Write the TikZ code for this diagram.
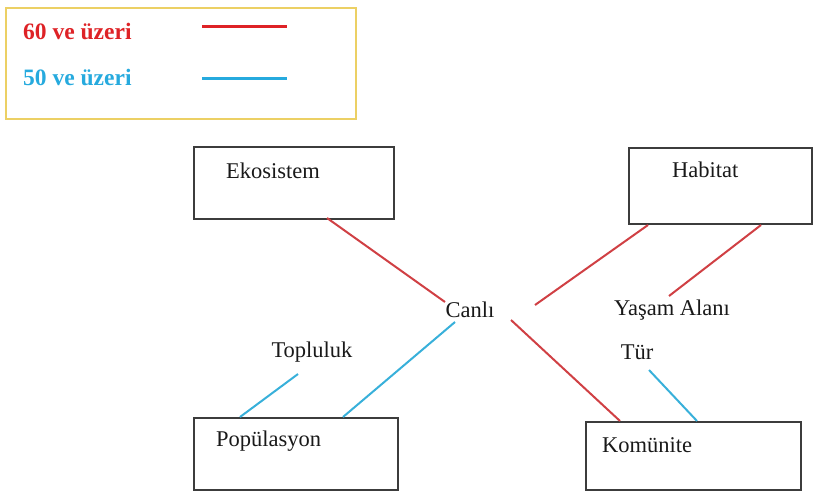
\documentclass[tikz,border=0pt]{standalone}
\usepackage{fontspec}
\setmainfont{Liberation Serif}
\definecolor{legred}{RGB}{222,34,38}
\definecolor{legblue}{RGB}{38,170,222}
\definecolor{linered}{RGB}{208,64,68}
\definecolor{lineblue}{RGB}{56,176,218}
\definecolor{gold}{RGB}{236,208,100}
\definecolor{boxgray}{RGB}{60,60,60}
\definecolor{txt}{RGB}{25,25,25}
\begin{document}
\begin{tikzpicture}[x=1pt,y=-1pt,
  boxnode/.style={draw=boxgray,line width=2pt,minimum width=#1,minimum height=72pt,inner sep=0pt,anchor=north west},
  boxnode/.default=200pt,
  lbl/.style={font=\fontsize{22.5}{26}\selectfont,text=txt,inner sep=0pt},
  leg/.style={font=\fontsize{23.5}{27}\selectfont\bfseries,inner sep=0pt,anchor=west},
  redl/.style={draw=linered,line width=2pt},
  bluel/.style={draw=lineblue,line width=2pt}]
\useasboundingbox (0,0) rectangle (818,491);
% legend
\node[draw=gold,line width=2pt,minimum width=350pt,minimum height=111pt,anchor=north west,inner sep=0pt] (legend) at (5,7) {};
\node[leg,text=legred] (l60) at (23,31) {60 ve üzeri};
\node[leg,text=legblue] (l50) at (23,77) {50 ve üzeri};
\coordinate (r1) at (202,26); \coordinate (r2) at (287,26);
\coordinate (b1) at (202,78); \coordinate (b2) at (287,78);
\draw[draw=legred,line width=3pt] (r1) -- (r2);
\draw[draw=legblue,line width=3pt] (b1) -- (b2);
% boxes
\node[boxnode=200pt] (eko) at (193,146) {};
\node[boxnode=183pt,minimum height=76pt] (hab) at (628,147) {};
\node[boxnode=204pt] (pop) at (193,417) {};
\node[boxnode=215pt,minimum height=68pt] (kom) at (585,421) {};
\node[lbl,anchor=west] (tEko) at (226,171) {Ekosistem};
\node[lbl,anchor=west] (tHab) at (672,170) {Habitat};
\node[lbl,anchor=west] (tPop) at (216,441) {Popülasyon};
\node[lbl,anchor=west] (tKom) at (602,445) {Komünite};
% labels
\node[lbl] (canli) at (470,310) {Canlı};
\node[lbl] (yasam) at (672,310) {Yaşam Alanı};
\node[lbl] (tur) at (637,352) {Tür};
\node[lbl] (top) at (312,352) {Topluluk};
% connector end points
\coordinate (e1) at (327,218);
\coordinate (c1) at (445,302);
\coordinate (h1) at (648,225);
\coordinate (c2) at (535,305);
\coordinate (h2) at (761,225);
\coordinate (y1) at (669,296);
\coordinate (c3) at (511,320);
\coordinate (k1) at (620,421);
\coordinate (c4) at (455,322);
\coordinate (p1) at (343,417);
\coordinate (t1) at (298,374);
\coordinate (p2) at (240,417);
\coordinate (u1) at (649,370);
\coordinate (k2) at (697,421);
\draw[redl] (e1) -- (c1);
\draw[redl] (h1) -- (c2);
\draw[redl] (h2) -- (y1);
\draw[redl] (c3) -- (k1);
\draw[bluel] (c4) -- (p1);
\draw[bluel] (t1) -- (p2);
\draw[bluel] (u1) -- (k2);
\end{tikzpicture}
\end{document}
